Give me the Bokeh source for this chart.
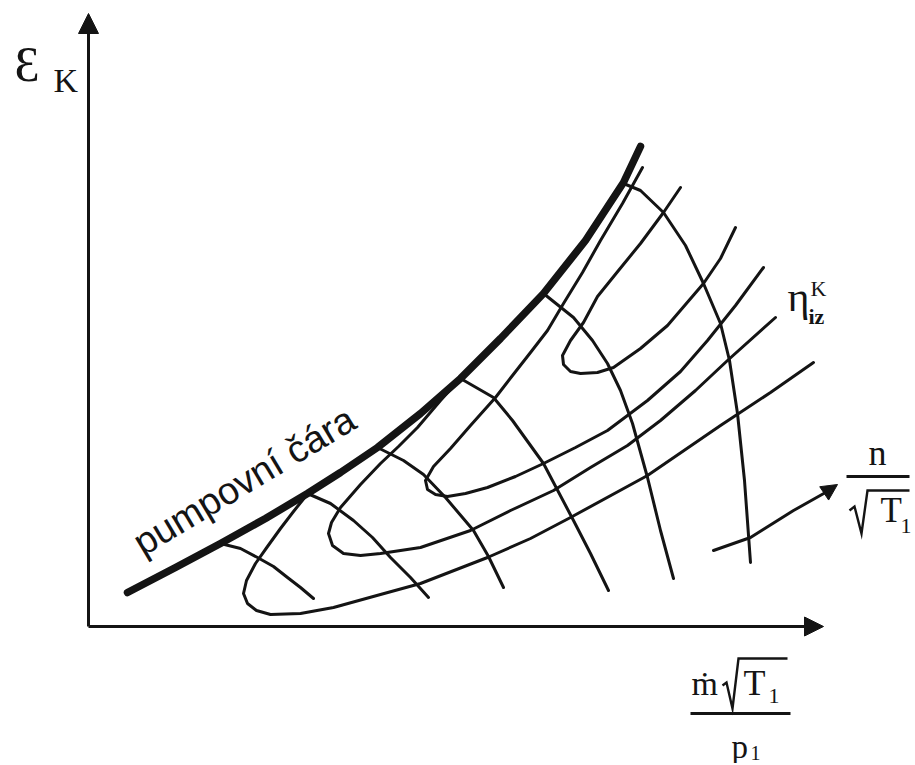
from bokeh.plotting import figure
from bokeh.models import Range1d, Label, Arrow, NormalHead
from bokeh.embed import file_html
from bokeh.resources import INLINE

# Chart units: origin at the axes' intersection, x = reduced mass flow, y = pressure ratio (arbitrary units)

# surge line ("pumpovní čára")
surge_x = [39, 87, 132, 177, 219, 252, 289, 332, 372, 412, 455, 497, 535, 552]
surge_y = [34, 59, 83, 108, 133, 154, 179, 213, 248, 288, 333, 386, 444, 480]

# constant reduced speed lines n/sqrt(T1)
speed_x = [
    [132, 152, 169, 185, 199, 212, 225],
    [219, 242, 265, 284, 302, 322, 340],
    [289, 315, 335, 357, 385, 400, 415],
    [372, 405, 424, 455, 485, 502, 520],
    [455, 485, 504, 519, 532, 544, 559, 572, 585],
    [535, 552, 575, 597, 615, 632, 641, 649, 656, 662],
]
speed_y = [
    [83, 78, 69, 60, 49, 39, 28],
    [133, 123, 106, 89, 69, 49, 29],
    [179, 166, 152, 129, 96, 70, 39],
    [248, 229, 206, 163, 106, 73, 36],
    [333, 309, 286, 263, 236, 203, 149, 96, 48],
    [443, 436, 414, 381, 343, 303, 266, 213, 146, 64],
]

# isentropic efficiency contours (open loops)
eff_x = [
    [217, 205, 192, 179, 167, 158, 155, 159, 168, 182, 212, 245, 292, 332, 399, 442, 482, 559, 632, 682, 725],
    [371, 352, 329, 310, 292, 272, 252, 243, 240, 244, 255, 272, 292, 332, 382, 422, 465, 502, 539, 572, 607, 639, 687],
    [554, 534, 512, 494, 475, 459, 442, 424, 407, 382, 362, 345, 337, 339, 347, 359, 377, 399, 427, 455, 487, 519, 559, 592, 619, 647, 675],
    [592, 575, 552, 530, 509, 495, 482, 474, 475, 482, 492, 509, 525, 552, 579, 615, 632, 647],
]
eff_y = [
    [130, 115, 98, 80, 63, 46, 33, 23, 16, 12, 13, 19, 32, 43, 69, 88, 109, 151, 201, 234, 264],
    [247, 226, 199, 180, 163, 142, 119, 104, 93, 81, 73, 71, 73, 79, 96, 116, 136, 159, 181, 206, 236, 266, 309],
    [459, 423, 386, 354, 323, 296, 274, 251, 229, 201, 178, 160, 146, 137, 132, 130, 133, 139, 150, 163, 179, 196, 226, 255, 286, 321, 359],
    [439, 414, 383, 356, 330, 304, 286, 271, 262, 255, 253, 254, 259, 278, 301, 343, 368, 399],
]

# curved arrow showing increasing n/sqrt(T1)
speed_arrow_x = [625, 662, 705, 737]
speed_arrow_y = [76, 89, 116, 134]

# radical signs of the axis-label formulas
rad_y_label_x = [761, 766, 773, 779, 821]
rad_y_label_y = [116, 120, 93, 136, 136]
rad_x_label_x = [634, 638, 644, 650, 699]
rad_x_label_y = [-59, -56, -82, -32, -32]

SERIF = "Liberation Serif"
SANS = "Liberation Sans"
INK = "#141414"
LW = 3.0

p = figure(width=913, height=763, x_range=Range1d(-88, 825), y_range=Range1d(-137, 626),
           output_backend="svg", toolbar_location=None, min_border=0,
           x_axis_type=None, y_axis_type=None)
p.outline_line_color = None
p.background_fill_color = "white"
p.border_fill_color = "white"

# axes with arrows
p.add_layout(Arrow(end=NormalHead(size=20, fill_color=INK, line_color=INK),
                   x_start=0, y_start=0, x_end=0, y_end=613, line_width=LW, line_color=INK))
p.add_layout(Arrow(end=NormalHead(size=19, fill_color=INK, line_color=INK),
                   x_start=0, y_start=0, x_end=735, y_end=0, line_width=LW, line_color=INK))

p.multi_line(eff_x, eff_y, line_width=LW, line_color=INK, line_cap="round", line_join="round")
p.multi_line(speed_x, speed_y, line_width=LW, line_color=INK, line_cap="round", line_join="round")
p.line(surge_x, surge_y, line_width=7.5, line_color=INK, line_cap="round", line_join="round")

# curved arrow
p.line(speed_arrow_x, speed_arrow_y, line_width=LW, line_color=INK, line_cap="round", line_join="round")
p.add_layout(Arrow(end=NormalHead(size=16, fill_color=INK, line_color=INK),
                   x_start=speed_arrow_x[-1], y_start=speed_arrow_y[-1], x_end=749, y_end=142,
                   line_width=LW, line_color=INK))

# radicals and fraction bars
p.line(rad_y_label_x, rad_y_label_y, line_width=2.4, line_color=INK, line_join="miter")
p.line(rad_x_label_x, rad_x_label_y, line_width=2.4, line_color=INK, line_join="miter")
p.line([758, 821], [150, 150], line_width=LW, line_color=INK)
p.line([602, 702], [-87, -87], line_width=LW, line_color=INK)

def lab(x, y, t, size, font=SERIF, align="left", angle=0.0, style="normal"):
    p.add_layout(Label(x=x, y=y, text=t, text_font=font, text_font_size=f"{size}px",
                       text_color=INK, text_align=align, text_baseline="alphabetic",
                       angle=angle, text_font_style=style))

# y axis label epsilon_K
lab(-74, 563, "Ɛ", 50)
lab(-35, 546, "K", 34)

# surge line label
lab(48, 81, "pumpovní čára", 38, font=SANS, angle=0.541)

# efficiency label
lab(699, 330, "η", 42)
lab(722, 338, "K", 22)
lab(720, 310, "iz", 22, style="bold")

# n / sqrt(T1)
lab(789, 174, "n", 36, align="center")
lab(792, 116, "T", 35)
lab(812, 101, "1", 22)

# m_dot sqrt(T1) / p1
lab(603, -57, "ṁ", 34)
lab(655, -56, "T", 36)
lab(680, -69, "1", 22)
lab(643, -120, "p", 33)
lab(662, -126, "1", 20)

open("out.html", "w").write(file_html(p, INLINE))
